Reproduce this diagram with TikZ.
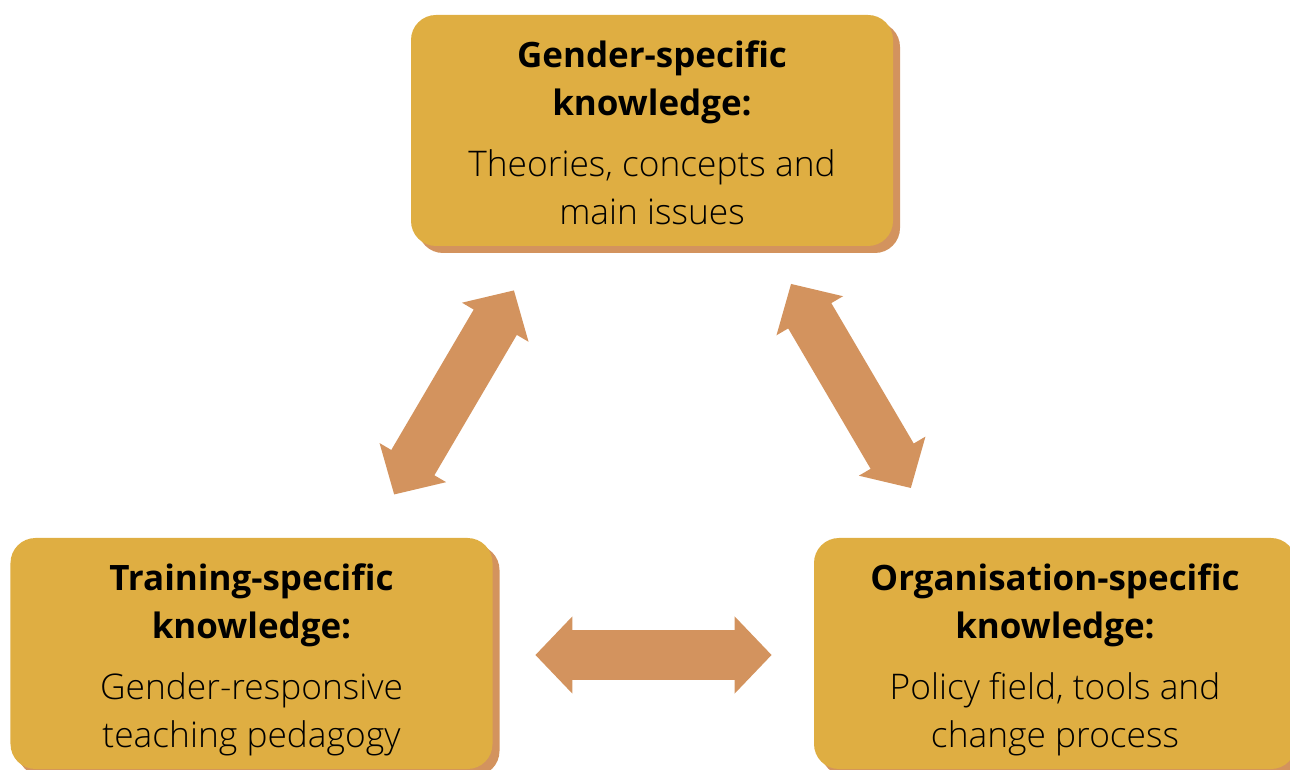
\documentclass[tikz,border=0pt]{standalone}
\usepackage{fontspec}
\setmainfont{Open Sans}
\newfontfamily\lightfamily{Open Sans Light}
\usetikzlibrary{arrows.meta,shadows}

\definecolor{boxgold}{RGB}{223,174,66}
\definecolor{arrowtan}{RGB}{211,147,94}

\newcommand{\titlefont}{\fontsize{19.9pt}{27.2pt}\selectfont\bfseries}
\newcommand{\bodyfont}{\lightfamily\mdseries\fontsize{20.1pt}{27.8pt}\selectfont}

\begin{document}
\begin{tikzpicture}[
  knowbox/.style={rectangle, rounded corners=0.5cm, fill=boxgold,
    minimum width=9.64cm, minimum height=4.62cm, align=center, inner sep=0pt,
    font=\titlefont,
    general shadow={fill=arrowtan, shadow xshift=0.14cm, shadow yshift=-0.14cm}},
  link/.style={draw=arrowtan, line width=1cm,
    {Triangle[length=0.74cm,width=1.5cm]}-{Triangle[length=0.74cm,width=1.5cm]}}]
\useasboundingbox (0,0) rectangle (25.8,15.38);

\node[knowbox] (gender) at (13.04,12.77) {\rule{0pt}{22.5pt}Gender-specific\\ knowledge:\\[8pt]
  \bodyfont Theories, concepts and\\ \bodyfont main issues\vphantom{gy}};
\node[knowbox] (train) at (5.03,2.31) {\rule{0pt}{22.5pt}Training-specific\\ knowledge:\\[8pt]
  \bodyfont Gender-responsive\\ \bodyfont teaching pedagogy\vphantom{gy}};
\node[knowbox] (org) at (21.1,2.31) {\rule{0pt}{22.5pt}Organisation-specific\\ knowledge:\\[8pt]
  \bodyfont Policy field, tools and\\ \bodyfont change process\vphantom{gy}};

% arrows between the three kinds of knowledge
\draw[link, shorten <=1cm, shorten >=1.02cm] ([xshift=2.346cm]train.north) -- ([xshift=-2.244cm]gender.south);
\draw[link, shorten <=0.87cm, shorten >=1.15cm] ([xshift=2.34cm]gender.south) -- ([xshift=-2.3cm]org.north);
\draw[link, shorten <=0.85cm, shorten >=0.84cm] ([yshift=-0.03cm]train.east) -- ([yshift=-0.03cm]org.west);
\end{tikzpicture}
\end{document}
